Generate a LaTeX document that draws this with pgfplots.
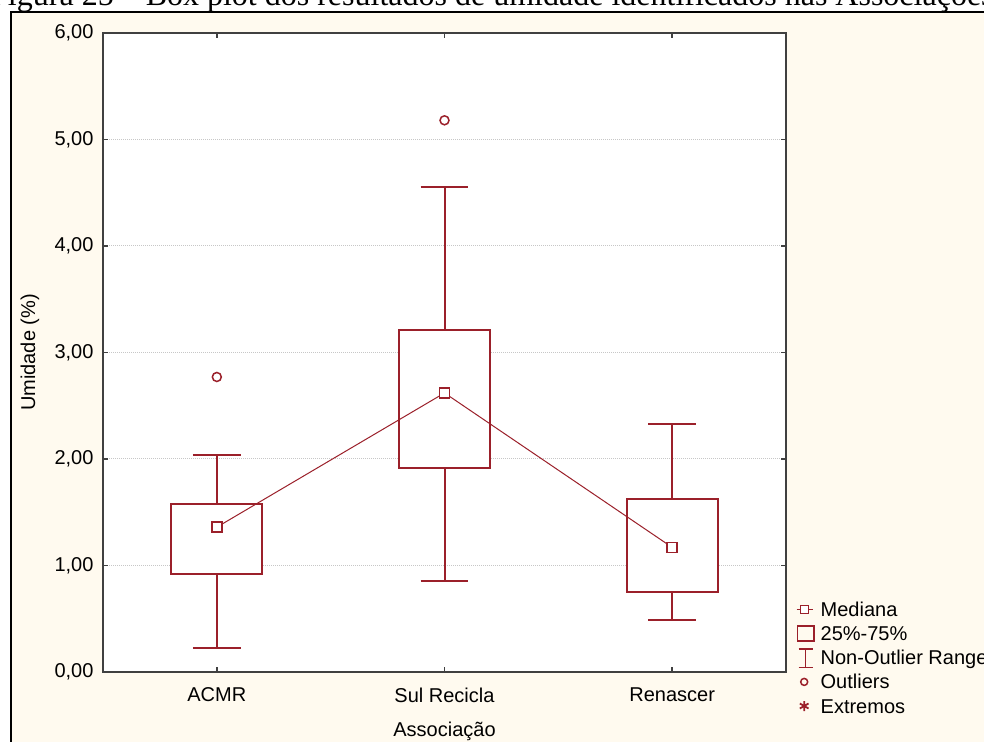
\documentclass[border=0pt]{standalone}
\usepackage{pgfplots}
\pgfplotsset{compat=1.18}
\usepgfplotslibrary{statistics}
\usepackage{fontspec}
\setmainfont{Liberation Sans}
\newfontfamily\titlefont{Liberation Serif}
\definecolor{boxred}{RGB}{155,32,42}
\definecolor{bgbeige}{RGB}{255,250,239}
\newcommand{\chartfont}{\fontsize{20bp}{24bp}\selectfont}
\begin{document}
\begin{tikzpicture}[x=1bp,y=1bp]
\useasboundingbox (0,0) rectangle (984,742);
\clip (0,0) rectangle (984,742);
\fill[white] (0,0) rectangle (984,742);
\fill[bgbeige] (11,-10) rectangle (1000,730);
\draw[black, line width=1.5bp] (11,-10) -- (11,730) -- (1000,730);
\node[anchor=base west, inner sep=0pt, font=\titlefont\fontsize{32bp}{36bp}\selectfont] at (-10,736) {Figura 25 – Box plot dos resultados de umidade identificados nas Associações};
\begin{axis}[
  at={(103bp,70bp)}, anchor=south west,
  width=683bp, height=639bp, scale only axis,
  xmin=0.5, xmax=3.5, ymin=0, ymax=6,
  xtick={1,2,3}, xticklabels={ACMR,Sul Recicla,Renascer},
  ytick={0,1,2,3,4,5,6},
  /pgf/number format/assume math mode=true,
  tick label style={font=\chartfont},
  tick align=inside, major tick length=5bp,
  every tick/.style={black!75, line width=1.5bp},
  axis line style={black!75, line width=1.8bp},
  ymajorgrids,
  major grid style={black!22, line width=1bp, dash pattern=on 1bp off 1bp},
  axis background/.style={fill=white},
  xlabel={Associação}, ylabel={Umidade (\%)},
  every axis x label/.style={at={(axis description cs:0.5,-0.093)}, anchor=center, font=\chartfont},
  every axis y label/.style={at={(axis description cs:-0.107,0.5)}, rotate=90, anchor=center, font=\chartfont},
  xticklabel style={yshift=-12bp},
  yticklabel style={xshift=-6bp, /pgf/number format/.cd, fixed, fixed zerofill, precision=2, use comma, assume math mode=true},
  boxplot/draw direction=y,
  boxplot/draw/median/.code={},
  boxplot/every box/.style={fill=white},
  legend cell align=left,
  legend style={at={(axis description cs:1.0146,0.1136)}, anchor=north west,
    draw=none, fill=none, inner sep=0pt, font=\chartfont,
    nodes={inner sep=0pt, anchor=base west, text height=14bp, text depth=4bp},
    row sep=3.1bp, column sep=6bp},
]
% ACMR
\addplot[boxplot prepared={draw position=1, lower whisker=0.23, lower quartile=0.92,
  median=1.36, upper quartile=1.58, upper whisker=2.04, box extend=0.4, whisker extend=0.21},
  draw=boxred, line width=2bp, mark=o, mark size=4.5bp,
  mark options={draw=boxred, line width=1.5bp}, forget plot] coordinates {(0,2.77)};
% Sul Recicla
\addplot[boxplot prepared={draw position=2, lower whisker=0.85, lower quartile=1.92,
  median=2.62, upper quartile=3.21, upper whisker=4.55, box extend=0.4, whisker extend=0.21},
  draw=boxred, line width=2bp, mark=o, mark size=4.5bp,
  mark options={draw=boxred, line width=1.5bp}, forget plot] coordinates {(0,5.18)};
% Renascer
\addplot[boxplot prepared={draw position=3, lower whisker=0.49, lower quartile=0.75,
  median=1.17, upper quartile=1.62, upper whisker=2.33, box extend=0.4, whisker extend=0.21},
  draw=boxred, line width=2bp, mark=o, mark size=4.5bp,
  mark options={draw=boxred, line width=1.5bp}, forget plot] coordinates {};
% medians
\addplot[boxred, line width=1bp, mark=square*, mark size=5bp,
  mark options={fill=white, draw=boxred, line width=1.6bp}, forget plot]
  coordinates {(1,1.36) (2,2.62) (3,1.17)};
% legend
\addlegendimage{legend image code/.code={
  \path[draw=none,fill=none] (0bp,-3bp) rectangle (18bp,17bp);
  \draw[boxred,line width=1bp] (0bp,7bp) -- (16bp,7bp);
  \draw[boxred,line width=1.5bp,fill=white] (4bp,3bp) rectangle (12bp,11bp);}}
\addlegendentry{Mediana}
\addlegendimage{legend image code/.code={
  \path[draw=none,fill=none] (0bp,-3bp) rectangle (18bp,17bp);
  \draw[boxred,line width=1.5bp] (0.75bp,-0.5bp) rectangle (17.25bp,14.5bp);}}
\addlegendentry{25\%-75\%}
\addlegendimage{legend image code/.code={
  \path[draw=none,fill=none] (0bp,-3bp) rectangle (18bp,17bp);
  \draw[boxred,line width=1.5bp] (2bp,-2.5bp) -- (16bp,-2.5bp) (9bp,-2.5bp) -- (9bp,16bp) (2bp,16bp) -- (16bp,16bp);}}
\addlegendentry{Non-Outlier Range}
\addlegendimage{legend image code/.code={
  \path[draw=none,fill=none] (0bp,-3bp) rectangle (18bp,17bp);
  \draw[boxred,line width=1.5bp] (7.5bp,7bp) circle (3.5bp);}}
\addlegendentry{Outliers}
\addlegendimage{legend image code/.code={
  \path[draw=none,fill=none] (0bp,-3bp) rectangle (18bp,17bp);
  \draw[boxred,line width=1.8bp,only marks,mark=asterisk,mark size=5bp] plot coordinates {(7.5bp,7bp)};}}
\addlegendentry{Extremos}
\end{axis}
\end{tikzpicture}
\end{document}
